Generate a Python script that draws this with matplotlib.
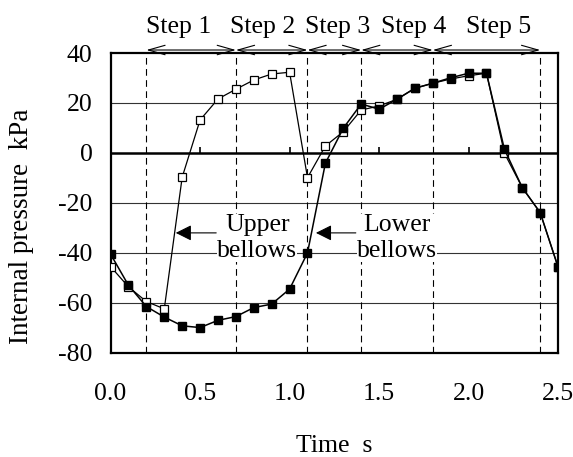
import matplotlib
matplotlib.use('Agg')
from matplotlib import pyplot as plt
import numpy as np

plt.rcParams['font.family'] = ['Liberation Serif', 'DejaVu Serif']
plt.rcParams['axes.unicode_minus'] = False

# time axis (s)
t = [0.0, 0.1, 0.2, 0.3, 0.4, 0.5, 0.6, 0.7, 0.8, 0.9, 1.0, 1.1, 1.2,
     1.3, 1.4, 1.5, 1.6, 1.7, 1.8, 1.9, 2.0, 2.1, 2.2, 2.3, 2.4, 2.5]

# internal pressure (kPa)
upper = [-45.5, -53.6, -59.5, -62.4, -9.7, 13.2, 21.6, 25.5, 29.2, 31.6, 32.3, -9.9, 2.8,
         8.5, 17.2, 18.8, 21.5, 25.9, 27.9, 29.6, 30.9, 31.9, -0.1, -13.9, -23.9, -45.7]
lower = [-40.5, -53.0, -61.5, -65.7, -69.2, -69.9, -67.0, -65.5, -61.9, -60.5, -54.5, -40.0, -4.1,
         9.9, 19.6, 17.5, 21.5, 25.9, 27.9, 30.1, 31.9, 31.9, 1.5, -13.9, -23.9, -45.7]

step_bounds = [0.2, 0.7, 1.1, 1.4, 1.8, 2.4]
step_names = ['Step 1', 'Step 2', 'Step 3', 'Step 4', 'Step 5']
step_label_x = [0.38, 0.85, 1.27, 1.695, 2.17]

xticks = [0.0, 0.5, 1.0, 1.5, 2.0, 2.5]
yticks = [-80, -60, -40, -20, 0, 20, 40]

FS = 18.5

fig = plt.figure(figsize=(5.73, 4.57), dpi=100)
ax = fig.add_axes([0.193, 0.228, 0.781, 0.656])

ax.set_xlim(0, 2.5)
ax.set_ylim(-80, 40)
ax.set_xticks(xticks)
ax.set_xticklabels(['%.1f' % v for v in xticks])
ax.set_yticks(yticks)
ax.tick_params(length=0, labelsize=FS)
ax.tick_params(axis='x', pad=22)
ax.tick_params(axis='y', pad=13)
for s in ax.spines.values():
    s.set_linewidth(1.6)

# horizontal grid
for v in yticks[1:-1]:
    if v == 0:
        ax.axhline(0, color='black', lw=1.8, zorder=2)
    else:
        ax.axhline(v, color='#333333', lw=0.8, zorder=1)
# little ticks on the zero line
ax.vlines(xticks[1:-1], 0, 2.2, color='black', lw=1.2, zorder=2)

# step boundaries
for b in step_bounds:
    ax.axvline(b, color='black', lw=0.8, ls=(0, (6, 4)), zorder=1)

# step arrows above the frame
for a, b in zip(step_bounds[:-1], step_bounds[1:]):
    ax.annotate('', xy=(a, 41.2), xytext=(b, 41.2), annotation_clip=False,
                arrowprops=dict(arrowstyle='<->, head_length=0.6, head_width=0.17',
                                mutation_scale=20, lw=0.8, color='black',
                                shrinkA=0, shrinkB=0))
for x, name in zip(step_label_x, step_names):
    ax.text(x, 50.5, name, ha='center', va='center', fontsize=FS, clip_on=False)

ax.plot(t, upper, '-s', color='black', lw=0.9, ms=6, mfc='white', mec='black',
        mew=0.9, zorder=3)
ax.plot(t, lower, '-s', color='black', lw=1.1, ms=6, mfc='black', mec='black',
        zorder=4)

# labels with arrows
ax.text(0.82, -34, 'Upper\nbellows', ha='center', va='center', fontsize=FS,
        linespacing=1.2, zorder=5,
        bbox=dict(facecolor='white', edgecolor='none', pad=0))
ax.annotate('', xy=(0.364, -32), xytext=(0.59, -32),
            arrowprops=dict(arrowstyle='-|>, head_length=0.6, head_width=0.3',
                            mutation_scale=16, lw=0.8, color='black',
                            shrinkA=0, shrinkB=0), zorder=5)
ax.text(1.60, -34, 'Lower\nbellows', ha='center', va='center', fontsize=FS,
        linespacing=1.2, zorder=5,
        bbox=dict(facecolor='white', edgecolor='none', pad=0))
ax.annotate('', xy=(1.147, -32), xytext=(1.37, -32),
            arrowprops=dict(arrowstyle='-|>, head_length=0.6, head_width=0.3',
                            mutation_scale=16, lw=0.8, color='black',
                            shrinkA=0, shrinkB=0), zorder=5)

fig.text((110 + 558) / 2 / 573, 1 - 446 / 457, 'Time  s', ha='center', va='center',
         fontsize=FS)
fig.text(22 / 573, 1 - 226 / 457, 'Internal pressure  kPa', ha='center', va='center',
         rotation=90, fontsize=19.5)

fig.savefig('out.png', dpi=100)
